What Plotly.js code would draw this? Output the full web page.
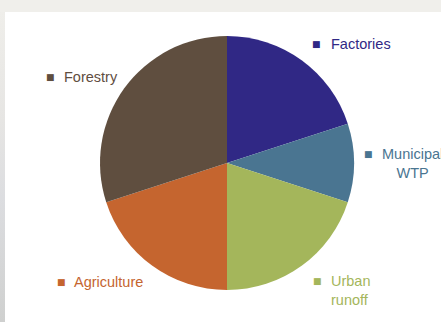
<!DOCTYPE html>
<html>
<head>
<meta charset="utf-8">
<script src="https://cdn.plot.ly/plotly-3.0.1.min.js"></script>
<style>
html,body{margin:0;padding:0;background:#f0efeb;}
#wrap{position:relative;width:441px;height:322px;overflow:hidden;background:#f0efeb;}
#panel{position:absolute;left:5px;top:12px;right:0;bottom:0;background:#ffffff;}
#strip{position:absolute;left:0;top:12px;width:5px;bottom:0;background:linear-gradient(to bottom,#efeeea 0%,#e6e5e3 35%,#dcdde0 60%,#cfd0cf 100%);}
#chart{position:absolute;left:0;top:0;width:441px;height:322px;}
</style>
</head>
<body>
<div id="wrap"><div id="panel"></div><div id="strip"></div><div id="chart"></div></div>
<script>
var categories = ["Factories", "Municipal WTP", "Urban runoff", "Agriculture", "Forestry"];
var values = [20, 10, 20, 20, 30];
var colors = ["#302885", "#4a7591", "#a4b65b", "#c5652f", "#5f4e3f"];
var labelLines = ["Factories", "Municipal<br>WTP", "Urban<br>runoff", "Agriculture", "Forestry"];

// label placement (paper px): square x, text x, y, text anchor
var labelPos = [
  {sx: 316.5, tx: 329, y: 44, anchor: "left", align: "left"},
  {sx: 368, tx: 412, y: 163, anchor: "center", align: "center", sy: 154},
  {sx: 317.5, tx: 329, y: 290.5, anchor: "left", align: "left", sy: 281},
  {sx: 61.5, tx: 72, y: 282, anchor: "left", align: "left"},
  {sx: 50, tx: 62, y: 77, anchor: "left", align: "left"}
];

var W = 441, H = 322;
var cx = 227, cy = 163, r = 127;

var annotations = [];
categories.forEach(function(c, i) {
  var p = labelPos[i];
  var sy = p.sy !== undefined ? p.sy : p.y;
  annotations.push({
    xref: "paper", yref: "paper", x: p.sx / W, y: 1 - sy / H,
    xanchor: "center", yanchor: "middle", showarrow: false,
    text: "■", font: {family: "DejaVu Sans", size: 9, color: colors[i]}
  });
  annotations.push({
    xref: "paper", yref: "paper", x: p.tx / W, y: 1 - p.y / H,
    xanchor: p.anchor, yanchor: "middle", align: p.align, showarrow: false,
    text: labelLines[i], font: {family: "Liberation Sans", size: 14.5, color: colors[i]}
  });
});

var data = [{
  type: "pie",
  labels: categories,
  values: values,
  marker: {colors: colors, line: {width: 0}},
  sort: false,
  direction: "clockwise",
  rotation: 0,
  textinfo: "none",
  hoverinfo: "label+percent",
  domain: {x: [(cx - r) / W, (cx + r) / W], y: [(H - cy - r) / H, (H - cy + r) / H]}
}];

var layout = {
  width: W, height: H,
  margin: {l: 0, r: 0, t: 0, b: 0},
  paper_bgcolor: "rgba(0,0,0,0)",
  plot_bgcolor: "rgba(0,0,0,0)",
  showlegend: false,
  annotations: annotations
};

Plotly.newPlot("chart", data, layout, {staticPlot: true, displayModeBar: false});
</script>
</body>
</html>
